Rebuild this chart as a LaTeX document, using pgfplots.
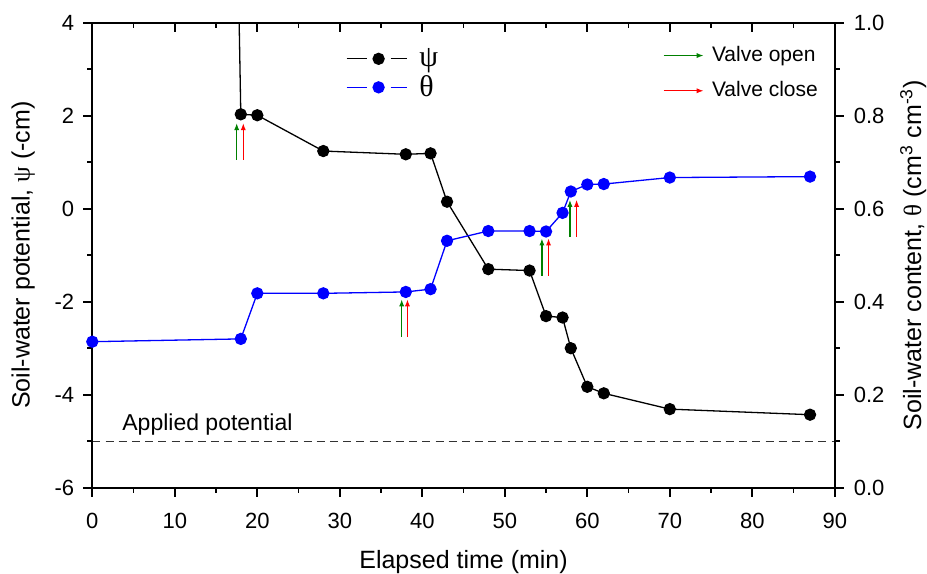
\documentclass[border=0pt]{standalone}
\usepackage{fontspec}
\setmainfont{Liberation Sans}
\newfontfamily\greek{Liberation Serif}
\usepackage{pgfplots}
\pgfplotsset{compat=1.18}
\usetikzlibrary{arrows.meta}
\definecolor{vopen}{RGB}{0,128,0}
\definecolor{vclose}{RGB}{255,0,0}
\definecolor{dashgray}{RGB}{50,50,50}

\tikzset{valve/.style={line width=0.6pt, -{Latex[length=3.5pt,width=2.6pt]}}}
\pgfplotsset{
  common/.style={
    scale only axis, width=371.25pt, height=232.5pt,
    xmin=0, xmax=90,
    axis line style={line width=0.9pt, black},
    major tick length=4.5pt, minor tick length=2.5pt,
    every tick/.style={black, line width=0.9pt},
    minor tick num=1,
    tick label style={font=\fontsize{11}{12}\selectfont},
    /pgf/number format/assume math mode=true,
    label style={font=\fontsize{12.5}{15}\selectfont},
  },
}

\begin{document}
\begin{tikzpicture}
% soil-water potential (left axis)
\begin{axis}[common,
  xtick pos=left, ytick pos=left, tick align=outside,
  ymin=-6, ymax=4, ytick={-6,-4,...,4},
  xtick={0,10,...,90},
  xticklabel style={yshift=-4.5pt},
  yticklabel style={xshift=-1pt},
  xlabel={Elapsed time (min)},
  xlabel style={yshift=-4pt},
  ylabel={Soil-water potential, {\greek ψ} (-cm)},
  ylabel style={yshift=3pt},
  legend style={draw=none, fill=none, at={(0.333,0.963)}, anchor=north west,
    font=\fontsize{15}{16}\selectfont, row sep=-1pt, cells={anchor=west}},
  legend image code/.code={
    \draw[#1,mark=none] (0pt,0pt) -- (10pt,0pt);
    \draw[#1,mark=none] (22pt,0pt) -- (30pt,0pt);
    \draw[#1,only marks] plot coordinates {(16pt,0pt)};
    \path (34pt,0pt);},
]
\coordinate (ll) at (rel axis cs:0,0);
\coordinate (ur) at (rel axis cs:1,1);
\addplot[black, line width=0.65pt, mark=*, mark size=2.75pt] coordinates {
  (17.2,10) (18,2.03) (20,2.01) (28,1.24) (38,1.17) (41,1.19) (43,0.15)
  (48,-1.30) (53,-1.33) (55,-2.31) (57,-2.34) (58,-3.00) (60,-3.83)
  (62,-3.97) (70,-4.31) (87,-4.43)};
\addlegendentry{{\greek ψ}}
\addlegendimage{blue, line width=0.65pt, mark=*, mark size=2.75pt}
\addlegendentry{{\greek θ}}
\addplot[dashgray, line width=0.65pt, dash pattern=on 4pt off 2.6pt, forget plot]
  coordinates {(0,-5) (90,-5)};
\node[anchor=base west, inner sep=0pt, font=\fontsize{11.5}{13}\selectfont] at (axis cs:3.6,-4.77) {Applied potential};
% valve events
\draw[vopen, valve] (axis cs:17.5,1.05) -- (axis cs:17.5,1.84);
\draw[vclose, valve] (axis cs:18.3,1.05) -- (axis cs:18.3,1.84);
\draw[vopen, valve] (axis cs:37.5,-2.75) -- (axis cs:37.5,-1.95);
\draw[vclose, valve] (axis cs:38.2,-2.75) -- (axis cs:38.2,-1.95);
\draw[vopen, valve] (axis cs:54.5,-1.44) -- (axis cs:54.5,-0.64);
\draw[vclose, valve] (axis cs:55.3,-1.44) -- (axis cs:55.3,-0.64);
\draw[vopen, valve] (axis cs:57.9,-0.60) -- (axis cs:57.9,0.19);
\draw[vclose, valve] (axis cs:58.7,-0.60) -- (axis cs:58.7,0.19);
\end{axis}

% soil-water content (right axis)
\begin{axis}[common,
  hide x axis, ytick pos=right, tick align=outside,
  ymin=0, ymax=1, ytick={0,0.2,...,1},
  yticklabel style={xshift=1.5pt, /pgf/number format/.cd, fixed, fixed zerofill, precision=1},
  ylabel={Soil-water content, {\greek θ} (cm\textsuperscript{3} cm\textsuperscript{-3})},
  ylabel style={yshift=-1pt},
  legend style={draw=none, fill=none, at={(0.76,0.967)}, anchor=north west,
    font=\fontsize{10.5}{12}\selectfont, row sep=4.5pt, cells={anchor=west}},
  legend image code/.code={
    \draw[#1, valve] (0pt,0pt) -- (20pt,0pt);
    \path (22pt,0pt);},
]
\addplot[blue, line width=0.65pt, mark=*, mark size=2.75pt, forget plot] coordinates {
  (0,0.314) (18,0.320) (20,0.418) (28,0.418) (38,0.421) (41,0.427) (43,0.531)
  (48,0.552) (53,0.552) (55,0.551) (57,0.591) (58,0.637) (60,0.652)
  (62,0.653) (70,0.667) (87,0.669)};
\addlegendimage{vopen}
\addlegendentry{Valve open}
\addlegendimage{vclose}
\addlegendentry{Valve close}
\end{axis}

% top frame with inward ticks
\begin{axis}[common,
  hide y axis, xtick pos=right, tick align=inside,
  ymin=0, ymax=1, xtick={0,10,...,90}, xticklabels={},
]
\end{axis}
\pgfresetboundingbox
\path ([shift={(-46.15pt,-42.65pt)}]ll) rectangle ([shift={(46.1pt,11.35pt)}]ur);
\end{tikzpicture}
\end{document}
